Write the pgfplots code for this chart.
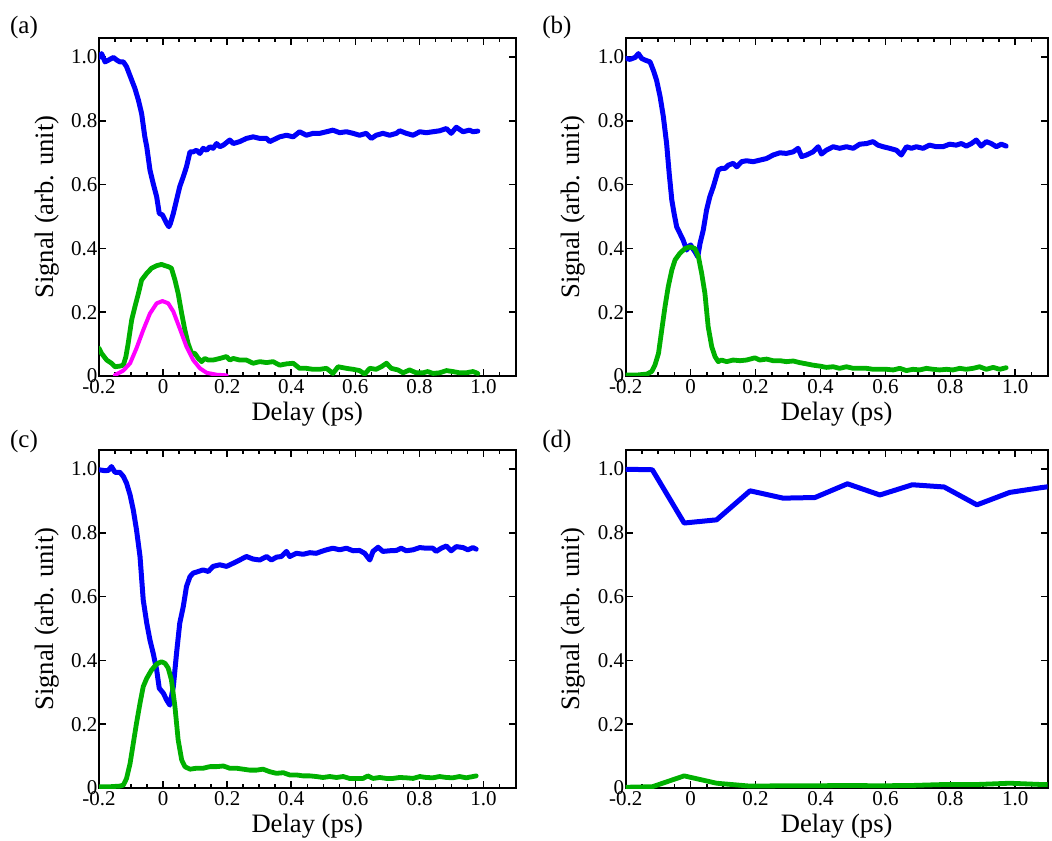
\documentclass[border=0pt]{standalone}
\usepackage{fontspec}
\setmainfont{Liberation Serif}
\usepackage{pgfplots}
\pgfplotsset{compat=1.18}
\definecolor{cblue}{RGB}{0,0,250}
\definecolor{cgreen}{RGB}{0,176,0}
\definecolor{cmag}{RGB}{255,0,255}
\tikzset{plab/.style={font=\fontsize{12.5}{15}\selectfont, anchor=center}}
\pgfplotsset{
  panel/.style={
    scale only axis, height=169pt,
    xmin=-0.2, xmax=1.1, ymin=0, ymax=1.06,
    xtick={-0.2,0,0.2,0.4,0.6,0.8,1.0},
    xticklabels={-0.2,0,0.2,0.4,0.6,0.8,1.0},
    ytick={0,0.2,0.4,0.6,0.8,1.0},
    yticklabels={0,0.2,0.4,0.6,0.8,1.0},
    minor xtick={-0.15,-0.1,-0.05,0.05,0.1,0.15,0.25,0.3,0.35,0.45,0.5,0.55,0.65,0.7,0.75,0.85,0.9,0.95,1.05},
    xtick pos=both, ytick pos=both,
    tick align=inside,
    major tick length=3.5pt, minor tick length=2pt,
    axis line style={line width=1pt},
    every tick/.style={black, line width=0.8pt},
    tick label style={font=\fontsize{10.5}{12}\selectfont},
    xticklabel style={inner sep=1.5pt},
    yticklabel style={inner xsep=0.6pt},
    label style={font=\fontsize{13.3}{16}\selectfont},
    xlabel={Delay (ps)}, ylabel={Signal (arb. unit)},
    xlabel style={at={(axis description cs:0.5,-0.112)}, anchor=center},
    ylabel style={at={(axis description cs:-0.125,0.5)}, anchor=center},
    clip mode=individual,
    every axis plot/.append style={no markers, line join=round, line cap=round},
  },
  bl/.style={cblue, line width=2.5pt},
  gr/.style={cgreen, line width=2.4pt},
  mg/.style={cmag, line width=2pt},
}
\begin{document}
\begin{tikzpicture}
\useasboundingbox (0,0) rectangle (526pt,420pt);
% (a)
\begin{axis}[panel, width=208.3pt, at={(49.5pt,232pt)}, anchor=south west]
\addplot[bl] coordinates {
(-0.200,0.999)(-0.192,1.011)(-0.181,0.985)(-0.166,0.993)(-0.155,0.999)(-0.145,0.991)(-0.135,0.985)(-0.124,0.985)(-0.114,0.970)(-0.098,0.928)(-0.088,0.902)(-0.077,0.865)(-0.067,0.823)(-0.057,0.750)(-0.051,0.719)(-0.041,0.646)(-0.031,0.604)(-0.020,0.562)(-0.012,0.510)(-0.002,0.505)(0.006,0.489)(0.011,0.479)(0.018,0.468)(0.023,0.479)(0.032,0.510)(0.042,0.552)(0.052,0.594)(0.063,0.625)(0.073,0.656)(0.084,0.703)(0.094,0.703)(0.104,0.708)(0.115,0.698)(0.125,0.714)(0.136,0.708)(0.146,0.719)(0.156,0.714)(0.167,0.729)(0.177,0.719)(0.188,0.724)(0.208,0.740)(0.219,0.729)(0.239,0.735)(0.260,0.745)(0.281,0.750)(0.302,0.745)(0.323,0.745)(0.333,0.735)(0.343,0.740)(0.364,0.750)(0.385,0.755)(0.406,0.750)(0.426,0.766)(0.447,0.755)(0.468,0.761)(0.489,0.761)(0.510,0.766)(0.530,0.771)(0.551,0.763)(0.572,0.766)(0.593,0.761)(0.613,0.755)(0.634,0.761)(0.650,0.745)(0.665,0.755)(0.686,0.761)(0.707,0.755)(0.728,0.761)(0.738,0.769)(0.759,0.761)(0.780,0.755)(0.801,0.766)(0.821,0.763)(0.842,0.766)(0.863,0.769)(0.884,0.776)(0.899,0.761)(0.915,0.780)(0.936,0.766)(0.956,0.771)(0.967,0.766)(0.982,0.768)
};
\addplot[gr] coordinates {
(-0.200,0.087)(-0.192,0.071)(-0.176,0.050)(-0.161,0.040)(-0.150,0.029)(-0.135,0.031)(-0.124,0.034)(-0.116,0.061)(-0.109,0.102)(-0.098,0.176)(-0.088,0.217)(-0.077,0.259)(-0.067,0.301)(-0.051,0.322)(-0.036,0.338)(-0.020,0.346)(-0.005,0.350)(0.006,0.346)(0.016,0.343)(0.026,0.338)(0.037,0.301)(0.047,0.259)(0.058,0.196)(0.068,0.144)(0.078,0.102)(0.089,0.071)(0.099,0.071)(0.110,0.055)(0.120,0.045)(0.130,0.055)(0.141,0.050)(0.156,0.050)(0.177,0.055)(0.198,0.061)(0.208,0.050)(0.219,0.055)(0.239,0.050)(0.260,0.050)(0.281,0.040)(0.302,0.045)(0.323,0.042)(0.343,0.045)(0.364,0.034)(0.385,0.038)(0.406,0.040)(0.426,0.024)(0.447,0.024)(0.468,0.021)(0.489,0.021)(0.510,0.024)(0.530,0.008)(0.546,0.029)(0.572,0.024)(0.593,0.021)(0.613,0.017)(0.629,0.006)(0.645,0.024)(0.665,0.021)(0.681,0.029)(0.697,0.040)(0.712,0.024)(0.733,0.019)(0.749,0.010)(0.769,0.019)(0.790,0.010)(0.811,0.010)(0.826,0.014)(0.842,0.008)(0.863,0.010)(0.884,0.017)(0.904,0.014)(0.925,0.010)(0.946,0.010)(0.967,0.014)(0.982,0.008)
};
\addplot[mg] coordinates {
(-0.150,0.003)(-0.124,0.017)(-0.103,0.040)(-0.083,0.087)(-0.062,0.144)(-0.041,0.196)(-0.020,0.228)(-0.002,0.235)(0.016,0.228)(0.032,0.202)(0.052,0.149)(0.073,0.092)(0.094,0.050)(0.115,0.024)(0.136,0.010)(0.167,0.004)(0.198,0.002)
};
\node[plab] at (axis description cs:-0.18,1.03) {(a)};
\end{axis}
% (b)
\begin{axis}[panel, width=211pt, at={(312.85pt,232pt)}, anchor=south west]
\addplot[bl] coordinates {
(-0.200,0.996)(-0.187,0.993)(-0.171,0.999)(-0.161,1.011)(-0.151,0.996)(-0.141,0.991)(-0.125,0.985)(-0.115,0.959)(-0.105,0.928)(-0.094,0.876)(-0.084,0.813)(-0.074,0.729)(-0.066,0.635)(-0.058,0.552)(-0.051,0.510)(-0.043,0.468)(-0.033,0.447)(-0.023,0.426)(-0.012,0.395)(-0.007,0.405)(0.000,0.411)(0.006,0.400)(0.013,0.390)(0.022,0.374)(0.029,0.416)(0.039,0.458)(0.049,0.520)(0.059,0.562)(0.070,0.594)(0.085,0.646)(0.095,0.651)(0.106,0.651)(0.116,0.661)(0.131,0.667)(0.142,0.656)(0.157,0.672)(0.172,0.675)(0.193,0.672)(0.213,0.677)(0.234,0.682)(0.254,0.693)(0.275,0.700)(0.295,0.698)(0.316,0.703)(0.331,0.714)(0.342,0.688)(0.357,0.693)(0.377,0.703)(0.393,0.719)(0.403,0.696)(0.418,0.708)(0.439,0.719)(0.459,0.714)(0.480,0.719)(0.501,0.714)(0.521,0.727)(0.542,0.729)(0.562,0.735)(0.577,0.724)(0.593,0.719)(0.613,0.714)(0.634,0.708)(0.649,0.693)(0.665,0.719)(0.680,0.714)(0.695,0.719)(0.716,0.714)(0.736,0.724)(0.757,0.719)(0.777,0.719)(0.798,0.727)(0.818,0.724)(0.834,0.729)(0.849,0.721)(0.865,0.729)(0.880,0.740)(0.895,0.721)(0.911,0.735)(0.926,0.729)(0.942,0.719)(0.957,0.727)(0.972,0.721)
};
\addplot[gr] coordinates {
(-0.200,0.003)(-0.166,0.003)(-0.135,0.006)(-0.120,0.014)(-0.110,0.034)(-0.099,0.071)(-0.089,0.144)(-0.079,0.217)(-0.069,0.280)(-0.058,0.332)(-0.048,0.364)(-0.033,0.385)(-0.017,0.400)(-0.002,0.405)(0.013,0.400)(0.024,0.374)(0.034,0.322)(0.044,0.259)(0.054,0.155)(0.065,0.092)(0.075,0.061)(0.085,0.045)(0.095,0.050)(0.111,0.045)(0.131,0.050)(0.152,0.048)(0.172,0.050)(0.198,0.057)(0.213,0.050)(0.234,0.053)(0.254,0.048)(0.275,0.048)(0.295,0.045)(0.316,0.047)(0.336,0.042)(0.357,0.038)(0.377,0.034)(0.398,0.031)(0.418,0.027)(0.439,0.029)(0.459,0.024)(0.480,0.029)(0.501,0.024)(0.521,0.024)(0.542,0.024)(0.562,0.021)(0.583,0.021)(0.603,0.021)(0.624,0.019)(0.644,0.024)(0.665,0.017)(0.685,0.021)(0.706,0.019)(0.726,0.024)(0.747,0.021)(0.767,0.019)(0.788,0.021)(0.808,0.019)(0.829,0.024)(0.849,0.021)(0.870,0.024)(0.890,0.029)(0.911,0.021)(0.932,0.027)(0.952,0.021)(0.972,0.026)
};
\node[plab] at (axis description cs:-0.163,1.03) {(b)};
\end{axis}
% (c)
\begin{axis}[panel, width=208.3pt, at={(49.5pt,26pt)}, anchor=south west]
\addplot[bl] coordinates {
(-0.200,0.998)(-0.181,0.995)(-0.171,0.996)(-0.161,1.008)(-0.150,0.990)(-0.135,0.990)(-0.124,0.977)(-0.114,0.956)(-0.103,0.919)(-0.093,0.872)(-0.083,0.810)(-0.072,0.726)(-0.062,0.590)(-0.051,0.517)(-0.041,0.464)(-0.031,0.423)(-0.020,0.370)(-0.012,0.313)(0.001,0.297)(0.011,0.276)(0.021,0.260)(0.032,0.318)(0.042,0.423)(0.052,0.517)(0.063,0.569)(0.073,0.632)(0.084,0.663)(0.094,0.674)(0.110,0.679)(0.125,0.684)(0.141,0.679)(0.156,0.695)(0.177,0.700)(0.198,0.695)(0.219,0.705)(0.239,0.715)(0.260,0.726)(0.281,0.718)(0.302,0.715)(0.323,0.726)(0.338,0.715)(0.354,0.724)(0.369,0.726)(0.385,0.742)(0.395,0.726)(0.416,0.736)(0.437,0.733)(0.458,0.738)(0.478,0.736)(0.494,0.742)(0.510,0.747)(0.530,0.752)(0.551,0.747)(0.572,0.752)(0.593,0.744)(0.613,0.745)(0.629,0.736)(0.645,0.715)(0.655,0.742)(0.671,0.755)(0.686,0.742)(0.707,0.744)(0.728,0.745)(0.743,0.752)(0.759,0.744)(0.780,0.747)(0.801,0.754)(0.821,0.752)(0.842,0.752)(0.852,0.742)(0.868,0.752)(0.884,0.759)(0.899,0.744)(0.915,0.757)(0.936,0.754)(0.951,0.747)(0.967,0.754)(0.977,0.749)
};
\addplot[gr] coordinates {
(-0.200,0.004)(-0.166,0.004)(-0.135,0.006)(-0.124,0.009)(-0.114,0.030)(-0.103,0.077)(-0.093,0.140)(-0.083,0.203)(-0.072,0.266)(-0.062,0.318)(-0.051,0.344)(-0.036,0.370)(-0.020,0.389)(-0.005,0.396)(0.006,0.391)(0.016,0.376)(0.026,0.339)(0.037,0.255)(0.047,0.151)(0.058,0.088)(0.068,0.067)(0.084,0.059)(0.104,0.062)(0.125,0.062)(0.146,0.067)(0.167,0.067)(0.188,0.069)(0.208,0.062)(0.229,0.062)(0.250,0.059)(0.271,0.056)(0.291,0.056)(0.312,0.059)(0.333,0.051)(0.354,0.046)(0.375,0.048)(0.395,0.041)(0.416,0.041)(0.437,0.038)(0.458,0.038)(0.478,0.036)(0.499,0.033)(0.520,0.036)(0.541,0.033)(0.562,0.036)(0.582,0.030)(0.603,0.030)(0.624,0.030)(0.639,0.038)(0.655,0.030)(0.676,0.033)(0.697,0.030)(0.717,0.030)(0.738,0.033)(0.759,0.032)(0.780,0.030)(0.801,0.036)(0.821,0.033)(0.842,0.032)(0.863,0.036)(0.884,0.033)(0.904,0.032)(0.925,0.036)(0.946,0.032)(0.967,0.036)(0.977,0.038)
};
\node[plab] at (axis description cs:-0.18,1.024) {(c)};
\end{axis}
% (d)
\begin{axis}[panel, width=211pt, at={(312.85pt,26pt)}, anchor=south west]
\addplot[bl] coordinates {
(-0.22,1.0)(-0.118,0.998)(-0.020,0.831)(0.080,0.841)(0.183,0.932)(0.285,0.909)(0.383,0.911)(0.483,0.954)(0.583,0.919)(0.683,0.951)(0.781,0.944)(0.882,0.888)(0.983,0.927)(1.080,0.942)(1.180,0.955)
};
\addplot[gr] coordinates {
(-0.22,0.002)(-0.118,0.004)(-0.020,0.038)(0.080,0.015)(0.183,0.006)(0.285,0.007)(0.383,0.007)(0.483,0.008)(0.583,0.007)(0.683,0.008)(0.781,0.011)(0.882,0.011)(0.983,0.015)(1.080,0.011)(1.180,0.010)
};
\node[plab] at (axis description cs:-0.163,1.024) {(d)};
\end{axis}
\end{tikzpicture}
\end{document}
